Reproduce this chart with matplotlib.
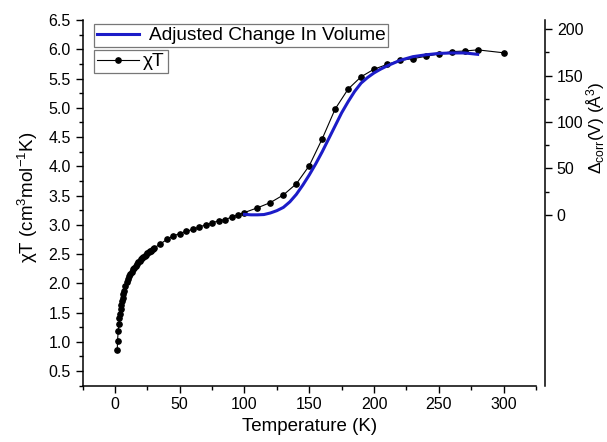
import numpy as np
import matplotlib
matplotlib.use('Agg')
from matplotlib import pyplot as plt
from matplotlib.ticker import MultipleLocator, FixedLocator, FormatStrFormatter

# Fonts: Arial look-alike, mathtext in the same family
plt.rcParams['font.family'] = ['Liberation Sans', 'DejaVu Sans']
plt.rcParams['mathtext.fontset'] = 'custom'
plt.rcParams['mathtext.rm'] = 'Liberation Sans'
plt.rcParams['mathtext.it'] = 'Liberation Sans:italic'

# chi*T data
temp = [1.8, 2.0, 2.5, 3.0, 3.5, 4.0, 4.5, 5.0, 5.5, 6.0, 6.5, 7, 8, 9, 10,
        11, 12, 13, 14, 15, 16, 17, 18, 19, 20, 21, 22, 23, 24, 25, 26, 27,
        28, 29, 30, 35, 40, 45, 50, 55, 60, 65, 70, 75, 80, 85, 90, 95, 100,
        110, 120, 130, 140, 150, 160, 170, 180, 190, 200, 210, 220, 230, 240,
        250, 260, 270, 280, 300]
chi_t = [0.86, 1.02, 1.18, 1.30, 1.40, 1.48, 1.56, 1.63, 1.69, 1.75, 1.81,
         1.87, 1.96, 2.02, 2.07, 2.12, 2.16, 2.20, 2.24, 2.27, 2.30, 2.33,
         2.36, 2.38, 2.41, 2.43, 2.45, 2.47, 2.49, 2.51, 2.53, 2.55, 2.56,
         2.58, 2.60, 2.67, 2.75, 2.81, 2.85, 2.89, 2.92, 2.96, 3.00, 3.03,
         3.07, 3.09, 3.13, 3.17, 3.21, 3.29, 3.38, 3.51, 3.70, 4.01, 4.47,
         4.98, 5.32, 5.53, 5.66, 5.74, 5.81, 5.84, 5.88, 5.92, 5.96, 5.97,
         5.99, 5.94]

# Adjusted change in volume (right axis)
vol_temp = [100, 105, 110, 115, 120, 125, 130, 135, 140, 145, 150, 155, 160,
            165, 170, 175, 180, 185, 190, 195, 200, 205, 210, 220, 230, 240,
            250, 260, 270, 280]
vol_change = [0.5, 0, 0, 0.3, 2, 4.5, 8, 14, 22, 32, 43, 55, 68, 82, 96, 110,
              122, 133, 142, 148, 153, 157, 160.5, 166.5, 170.5, 172.5, 174,
              174.5, 174.5, 173]

fig = plt.figure(figsize=(6.07, 4.42), dpi=100)
ax = fig.add_axes([0.136, 0.1274, 0.747, 0.8273])
ax2 = ax.twinx()

# Plot the chi*T curve on the left axis
ax.plot(temp, chi_t, color='black', linewidth=0.8, marker='o', markersize=3.8,
        label='χT')
# Volume curve on the right axis
ax2.plot(vol_temp, vol_change, color='#1c1cc8', linewidth=2.2,
         label='Adjusted Change In Volume')

# Axis ranges and ticks
ax.set_xlim(-25, 325)
ax.set_ylim(0.25, 6.5)
ax2.set_ylim(-184.2, 210)
ax.xaxis.set_major_locator(FixedLocator([0, 50, 100, 150, 200, 250, 300]))
ax.xaxis.set_minor_locator(FixedLocator([-25, 25, 75, 125, 175, 225, 275, 325]))
ax.yaxis.set_major_locator(FixedLocator(np.arange(0.5, 6.51, 0.5)))
ax.yaxis.set_minor_locator(MultipleLocator(0.25))
ax.yaxis.set_major_formatter(FormatStrFormatter('%.1f'))
ax2.yaxis.set_major_locator(FixedLocator([0, 50, 100, 150, 200]))
ax2.yaxis.set_minor_locator(FixedLocator([25, 75, 125, 175]))

for a in (ax, ax2):
    a.tick_params(which='major', direction='out', length=5, width=1,
                  labelsize=11.5, color='black')
    a.tick_params(which='minor', direction='out', length=3, width=1)

ax.spines['top'].set_visible(False)
ax.spines['right'].set_visible(False)
ax2.spines['top'].set_visible(False)
ax2.spines['left'].set_visible(False)
ax2.spines['bottom'].set_visible(False)
ax2.spines['right'].set_position(('outward', 6.5))
for sp in ['left', 'bottom']:
    ax.spines[sp].set_linewidth(1.1)
ax2.spines['right'].set_linewidth(1.1)

# Labels
ax.set_xlabel('Temperature (K)', fontsize=13.5)
ax.set_ylabel(r'χT (cm$^3$mol$^{-1}$K)', fontsize=13.5)
ax.yaxis.set_label_coords(-0.094, 0.516)
ax2.set_ylabel(r'$\Delta_{\rm corr}$(V) ($\rm\AA^3$)', fontsize=12.5)
ax2.yaxis.set_label_coords(1.107, 0.705)

# Two stacked legend boxes
leg1 = fig.legend(handles=ax2.get_lines(), loc='upper left',
                  bbox_to_anchor=(94 / 607, 1 - 24 / 442), fontsize=13.8,
                  frameon=True, fancybox=False, borderpad=0.15,
                  borderaxespad=0, handlelength=2.2, handletextpad=0.5)
leg2 = fig.legend(handles=ax.get_lines(), loc='upper left',
                  bbox_to_anchor=(94 / 607, 1 - 50 / 442), fontsize=13.8,
                  frameon=True, fancybox=False, borderpad=0.15,
                  borderaxespad=0, handlelength=2.2, handletextpad=0.2)
for leg in (leg1, leg2):
    leg.get_frame().set_edgecolor('#555555')
    leg.get_frame().set_linewidth(0.9)

fig.savefig('out.png', dpi=100)
